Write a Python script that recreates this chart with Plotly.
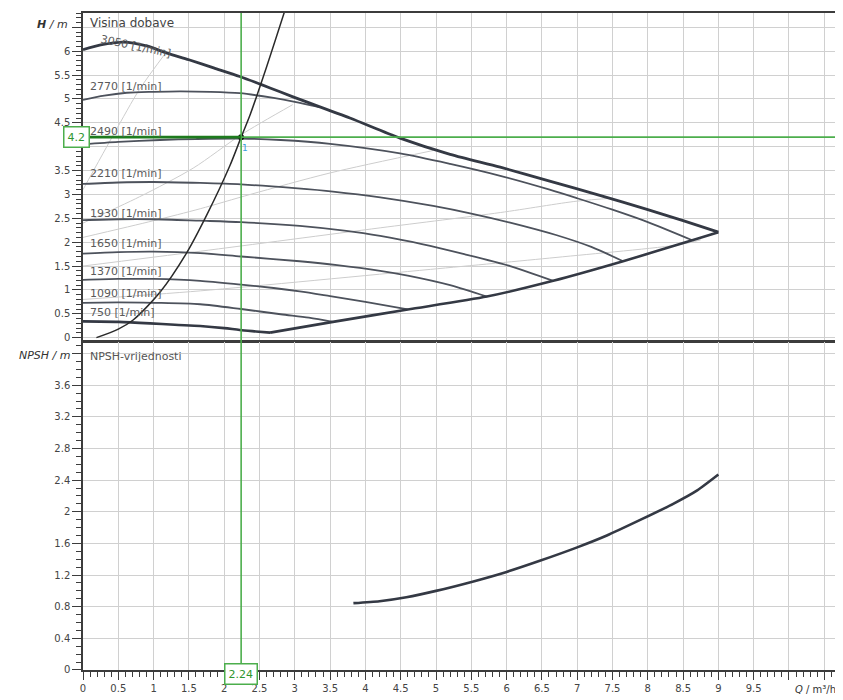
import plotly.graph_objects as go
from plotly.subplots import make_subplots

# pump curves, Q in m3/h, H in m
q_3050 = [0, 0.25, 0.57, 0.9, 1.19, 1.5, 1.85, 2.22, 2.51, 2.79, 3.07, 3.78, 4.49, 5.2, 5.91, 6.61, 7.32, 8.0, 8.5, 9.0]
h_3050 = [6.03, 6.13, 6.19, 6.11, 5.96, 5.82, 5.65, 5.47, 5.31, 5.15, 4.99, 4.6, 4.18, 3.84, 3.57, 3.28, 2.98, 2.68, 2.45, 2.21]

q_2770 = [0, 0.3, 0.62, 1.0, 1.37, 1.8, 2.22, 2.7, 3.0, 3.35]
h_2770 = [4.98, 5.07, 5.13, 5.15, 5.16, 5.15, 5.12, 5.02, 4.94, 4.83]

q_2490 = [0, 0.5, 1.09, 1.6, 2.24, 2.8, 3.5, 4.49, 5.2, 5.91, 6.61, 7.0, 7.5, 8.0, 8.63]
h_2490 = [4.05, 4.1, 4.14, 4.16, 4.17, 4.14, 4.06, 3.86, 3.64, 3.39, 3.1, 2.92, 2.68, 2.42, 2.04]

q_2210 = [0, 0.5, 1.0, 1.66, 2.24, 3.0, 3.54, 4.21, 4.96, 5.5, 6.05, 6.7, 7.2, 7.65]
h_2210 = [3.22, 3.25, 3.26, 3.24, 3.21, 3.13, 3.06, 2.94, 2.76, 2.6, 2.41, 2.15, 1.9, 1.6]

q_1930 = [0, 0.5, 1.0, 1.66, 2.24, 3.07, 3.7, 4.21, 4.8, 5.4, 6.05, 6.66]
h_1930 = [2.46, 2.48, 2.48, 2.45, 2.42, 2.34, 2.24, 2.13, 1.96, 1.75, 1.5, 1.19]

q_1650 = [0, 0.5, 1.0, 1.66, 2.24, 3.07, 3.6, 4.21, 4.6, 5.2, 5.72]
h_1650 = [1.76, 1.79, 1.8, 1.77, 1.7, 1.6, 1.52, 1.4, 1.3, 1.1, 0.86]

q_1370 = [0, 0.5, 1.0, 1.66, 2.24, 2.7, 3.07, 3.5, 4.0, 4.6]
h_1370 = [1.21, 1.23, 1.23, 1.19, 1.11, 1.04, 0.97, 0.87, 0.75, 0.59]

q_1090 = [0, 0.5, 1.0, 1.66, 2.24, 2.8, 3.2, 3.54]
h_1090 = [0.73, 0.74, 0.73, 0.7, 0.6, 0.49, 0.42, 0.33]

q_750 = [0, 0.5, 0.95, 1.3, 1.66, 2.0, 2.22, 2.45, 2.65]
h_750 = [0.34, 0.33, 0.3, 0.27, 0.245, 0.2, 0.16, 0.13, 0.105]

# right hand limit of the field (end of each speed curve)
q_limit = [2.65, 3.54, 4.6, 5.72, 6.66, 7.65, 8.63, 9.0]
h_limit = [0.105, 0.33, 0.59, 0.86, 1.19, 1.6, 2.04, 2.21]

# system curve through the duty point
q_sys = [0.19, 0.5, 0.71, 1.09, 1.47, 1.75, 2.08, 2.24, 2.37, 2.6, 2.87]
h_sys = [0, 0.18, 0.37, 0.95, 1.78, 2.56, 3.6, 4.2, 4.68, 5.67, 6.9]

# faint lines in the field
faint_q = [
    [0, 0.45, 0.8, 1.19],
    [0, 0.8, 1.56, 2.24, 2.97],
    [0, 1.0, 1.66, 2.37, 3.5, 4.96],
    [0, 1.66, 4.21, 5.91, 7.0, 7.5],
    [0, 1.66, 4.92, 6.7, 8.46, 8.75],
]
faint_h = [
    [3.1, 4.3, 5.2, 6.0],
    [2.4, 2.95, 3.55, 4.25, 4.88],
    [2.1, 2.45, 2.7, 3.0, 3.45, 3.92],
    [1.5, 1.81, 2.3, 2.62, 2.86, 2.92],
    [0.8, 0.98, 1.43, 1.68, 1.95, 2.05],
]

# NPSH curve
q_npsh = [3.83, 4.2, 4.58, 5.0, 5.53, 6.0, 6.47, 7.0, 7.42, 7.9, 8.36, 8.7, 9.0]
npsh = [0.845, 0.87, 0.92, 1.0, 1.12, 1.24, 1.38, 1.55, 1.7, 1.9, 2.1, 2.27, 2.47]

speed_labels = ["2770 [1/min]", "2490 [1/min]", "2210 [1/min]", "1930 [1/min]",
                "1650 [1/min]", "1370 [1/min]", "1090 [1/min]", "750 [1/min]"]
speed_label_h = [5.27, 4.32, 3.44, 2.6, 1.98, 1.39, 0.93, 0.52]

q_duty = 2.24
h_duty = 4.2

x_ticks = [0, 0.5, 1, 1.5, 2, 2.5, 3, 3.5, 4, 4.5, 5, 5.5, 6, 6.5, 7, 7.5, 8, 8.5, 9, 9.5, 10, 10.5]
x_tick_text = ["0", "0.5", "1", "1.5", "2", "2.5", "3", "3.5", "4", "4.5", "5", "5.5", "6", "6.5",
               "7", "7.5", "8", "8.5", "9", "9.5", "", ""]
h_ticks = [0, 0.5, 1, 1.5, 2, 2.5, 3, 3.5, 4, 4.5, 5, 5.5, 6, 6.5]
h_tick_text = ["0", "0.5", "1", "1.5", "2", "2.5", "3", "3.5", "", "4.5", "5", "5.5", "6", ""]
n_ticks = [0, 0.4, 0.8, 1.2, 1.6, 2.0, 2.4, 2.8, 3.2, 3.6, 4.0]
n_tick_text = ["0", "0.4", "0.8", "1.2", "1.6", "2", "2.4", "2.8", "3.2", "3.6", ""]

FONT = "DejaVu Sans"
GRID = "#d0d0d0"
FRAME = "#3c3c3c"
CURVE = "#4d525c"
DARK = "#343944"
GREEN = "#4cae4c"
DKGREEN = "#1e7b1e"

# 2 px gap between the panels gives the double rule of the original
fig = make_subplots(rows=2, cols=1, shared_xaxes=True, vertical_spacing=0.003)


def line(q, h, color, width, row=1, smooth=0.8):
    fig.add_trace(go.Scatter(x=q, y=h, mode="lines",
                             line=dict(color=color, width=width, shape="spline", smoothing=smooth),
                             hoverinfo="skip"), row=row, col=1)


for fq, fh in zip(faint_q, faint_h):
    line(fq, fh, "#cdcdcd", 1)

for q, h in [(q_2770, h_2770), (q_2490, h_2490), (q_2210, h_2210), (q_1930, h_1930),
             (q_1650, h_1650), (q_1370, h_1370), (q_1090, h_1090)]:
    line(q, h, CURVE, 1.8)

line(q_750, h_750, DARK, 2.6)
line(q_limit, h_limit, DARK, 2.6, smooth=0.6)
line(q_3050, h_3050, DARK, 2.8)
line(q_sys, h_sys, "#2a2a2a", 1.5)
line(q_npsh, npsh, DARK, 2.6, row=2, smooth=0.6)

# duty point lines
fig.add_shape(type="line", xref="x2", yref="paper", x0=q_duty, x1=q_duty, y0=0, y1=1,
              line=dict(color=GREEN, width=1.6))
fig.add_shape(type="line", xref="x", yref="y", x0=q_duty, x1=10.68, y0=h_duty, y1=h_duty,
              line=dict(color=GREEN, width=1.6))
fig.add_shape(type="line", xref="x", yref="y", x0=0, x1=q_duty, y0=h_duty, y1=h_duty,
              line=dict(color=DKGREEN, width=2.6))

fig.add_trace(go.Scatter(x=[q_duty], y=[h_duty], mode="markers", marker=dict(color="#111", size=6),
                         hoverinfo="skip"), row=1, col=1)
fig.add_trace(go.Scatter(x=[0], y=[h_duty], mode="markers", cliponaxis=False,
                         marker=dict(symbol="triangle-right", color=DKGREEN, size=9), hoverinfo="skip"), row=1, col=1)
fig.add_trace(go.Scatter(x=[q_duty], y=[0], mode="markers", cliponaxis=False,
                         marker=dict(color=DKGREEN, size=7), hoverinfo="skip"), row=2, col=1)

ann = []
for txt, h in zip(speed_labels, speed_label_h):
    ann.append(dict(x=0.07, y=h, xref="x", yref="y", text=txt, showarrow=False, xanchor="left",
                    font=dict(family=FONT, size=11, color="#5a5a5a")))
ann.append(dict(x=0.75, y=6.1, xref="x", yref="y", text="3050 [1/min]", showarrow=False, textangle=12,
                font=dict(family=FONT, size=11, color="#5a5a5a")))
ann.append(dict(x=0.07, y=6.6, xref="x", yref="y", text="Visina dobave", showarrow=False, xanchor="left",
                font=dict(family=FONT, size=12, color="#444")))
ann.append(dict(x=0.07, y=3.96, xref="x2", yref="y2", text="NPSH-vrijednosti", showarrow=False, xanchor="left",
                font=dict(family=FONT, size=11, color="#555")))
ann.append(dict(x=2.29, y=3.97, xref="x", yref="y", text="1", showarrow=False,
                font=dict(family=FONT, size=9, color="#3aa0e0")))
ann.append(dict(x=-0.0172, y=6.55, xref="paper", yref="y", text="<i><b>H</b> / m</i>", showarrow=False,
                xanchor="right", font=dict(family=FONT, size=11, color="#333")))
ann.append(dict(x=-0.0133, y=3.98, xref="paper", yref="y2", text="<i>NPSH / m</i>", showarrow=False,
                xanchor="right", font=dict(family=FONT, size=11, color="#333")))
ann.append(dict(x=10.37, y=-0.03, xref="x2", yref="paper", text="<i>Q</i> / m³/h", showarrow=False,
                yanchor="middle", font=dict(family=FONT, size=10, color="#333")))
ann.append(dict(x=-0.0265, y=h_duty, xref="paper", yref="y", text="4.2", showarrow=False,
                bgcolor="white", bordercolor=GREEN, borderwidth=1.5, borderpad=3,
                font=dict(family=FONT, size=11, color="#2f962f")))
ann.append(dict(x=q_duty, y=-0.0228, xref="x2", yref="paper", text="2.24", showarrow=False,
                bgcolor="white", bordercolor=GREEN, borderwidth=1.5, borderpad=3,
                font=dict(family=FONT, size=11, color="#2f962f")))

minor = dict(tickmode="linear", tick0=0, dtick=0.1, ticks="outside", ticklen=5, tickcolor=FRAME, showgrid=False)
frame = dict(showline=True, linecolor=FRAME, linewidth=1.5, mirror=True, zeroline=False,
             showgrid=True, gridcolor=GRID, gridwidth=1.4)

fig.update_xaxes(range=[0, 10.68], tickmode="array", tickvals=x_ticks, ticktext=x_tick_text, **frame)
fig.update_xaxes(showticklabels=False, ticks="", row=1, col=1)
fig.update_xaxes(ticks="outside", ticklen=8, tickcolor=FRAME, minor=minor, row=2, col=1)
fig.update_yaxes(range=[-0.06, 6.8], tickmode="array", tickvals=h_ticks, ticktext=h_tick_text,
                 ticks="outside", ticklen=9, tickcolor=FRAME, minor=minor, row=1, col=1, **frame)
fig.update_yaxes(range=[0, 4.14], tickmode="array", tickvals=n_ticks, ticktext=n_tick_text,
                 ticks="outside", ticklen=9, tickcolor=FRAME, minor=minor, row=2, col=1, **frame)

# the page adds an 8 px body margin, so the figure is 8 px smaller than the window
fig.update_layout(
    width=835, height=692,
    margin=dict(l=75, r=6, t=3, b=30),
    plot_bgcolor="white", paper_bgcolor="white",
    showlegend=False,
    font=dict(family=FONT, size=10, color="#444"),
    annotations=ann,
)

fig.write_html("out.html")
